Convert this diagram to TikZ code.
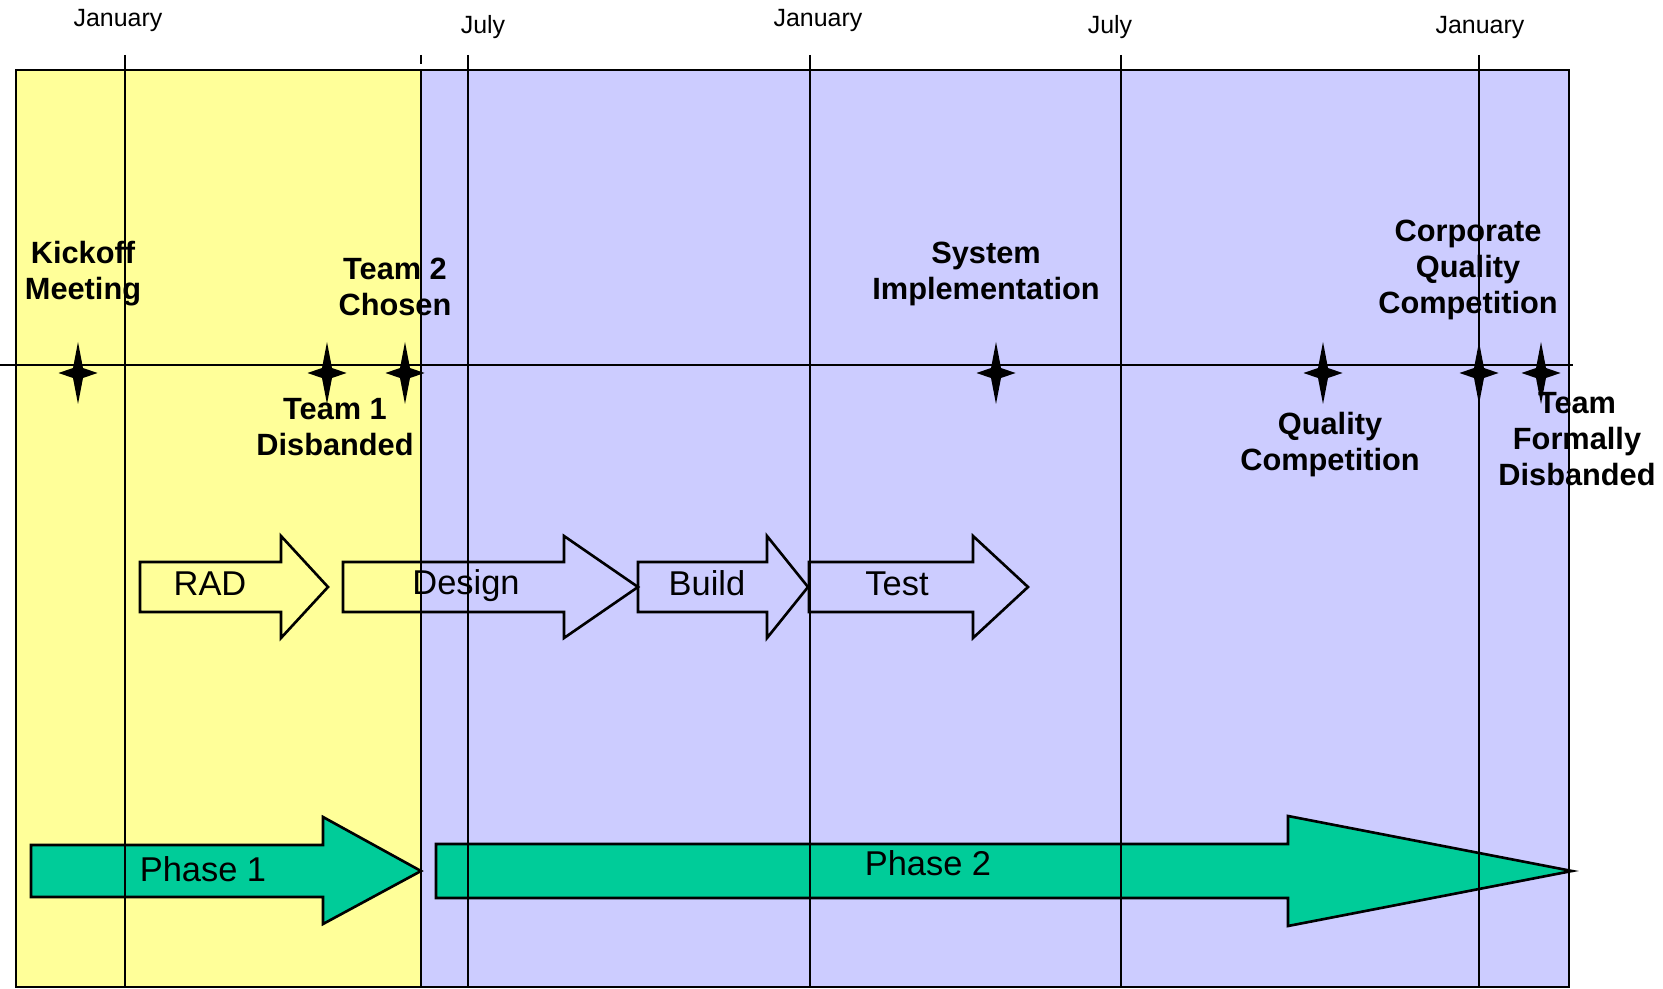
\documentclass[tikz,border=0pt]{standalone}
\usepackage{fontspec}
\setmainfont{Liberation Sans}
\definecolor{radyellow}{HTML}{FFFF99}
\definecolor{phaselilac}{HTML}{CCCCFF}
\definecolor{phasegreen}{HTML}{00CC99}
\tikzset{
  milestone/.pic={\fill (0,-31) -- (5,-5) -- (19.5,0) -- (5,5) -- (0,31) -- (-5,5) -- (-19.5,0) -- (-5,-5) -- cycle;},
  ev/.style={font=\bfseries\fontsize{17.5}{20.5}\selectfont,align=center,inner sep=0pt},
  mon/.style={font=\fontsize{14.2}{17}\selectfont,inner sep=0pt,anchor=base},
  stage/.style={font=\fontsize{19.6}{23}\selectfont,inner sep=0pt,anchor=base},
  rule/.style={line width=1.6pt},
  blockarrow/.style={line width=1.5pt,line join=miter},
}

\begin{document}
\begin{tikzpicture}[x=0.02cm,y=-0.02cm]
   \useasboundingbox (0,0) rectangle (1663,989);
   % periods
   \fill[radyellow] (16,70) rectangle (421,987);
   \fill[phaselilac] (421,70) rectangle (1569,987);
   % phases
   \draw[blockarrow,fill=phasegreen] (31,845) -- (323,845) -- (323,817) -- (421,871) -- (323,924) -- (323,897) -- (31,897) -- cycle;
   \draw[blockarrow,fill=phasegreen] (436,844) -- (1288,844) -- (1288,816) -- (1572,871) -- (1288,926) -- (1288,898) -- (436,898) -- cycle;
   % stages
   \draw[blockarrow] (140,562) -- (281,562) -- (281,536) -- (328,587) -- (281,638) -- (281,612) -- (140,612) -- cycle;
   \draw[blockarrow] (343,562) -- (564,562) -- (564,536) -- (638,587) -- (564,638) -- (564,612) -- (343,612) -- cycle;
   \draw[blockarrow] (638,562) -- (767,562) -- (767,536) -- (808,587) -- (767,638) -- (767,612) -- (638,612) -- cycle;
   \draw[blockarrow] (809,562) -- (973,562) -- (973,536) -- (1028,587) -- (973,638) -- (973,612) -- (809,612) -- cycle;
   % months
   \draw[rule] (125,55) -- (125,987);
   \draw[rule] (468,55) -- (468,987);
   \draw[rule] (810,55) -- (810,987);
   \draw[rule] (1121,55) -- (1121,987);
   \draw[rule] (1479,55) -- (1479,987);
   \draw[rule] (421,55) -- (421,64);
   \draw[rule] (421,70) -- (421,987);
   \draw[rule] (16,70) rectangle (1569,987);
   \node[mon] (jan1) at (118,27) {January};
   \node[mon] (jul1) at (483,34) {July};
   \node[mon] (jan2) at (818,27) {January};
   \node[mon] (jul2) at (1110,34) {July};
   \node[mon] (jan3) at (1480,34) {January};
   % timeline
   \coordinate (tlw) at (0,365);
   \coordinate (tle) at (1573,365);
   \draw[rule] (tlw) -- (tle);
   \pic at (78,373) {milestone};
   \pic at (327,373) {milestone};
   \pic at (405,373) {milestone};
   \pic at (996,373) {milestone};
   \pic at (1323,373) {milestone};
   \pic at (1479,373) {milestone};
   \pic at (1541,373) {milestone};
   \node[ev] (kickoff) at (83,274) {Kickoff\\Meeting};
   \node[ev] (teamtwo) at (395,287) {Team 2\\Chosen};
   \node[ev] (teamone) at (335,427) {Team 1\\Disbanded};
   \node[ev] (sysimpl) at (986,274) {System\\Implementation};
   \node[ev] (corpqual) at (1468,270) {Corporate\\Quality\\Competition};
   \node[ev] (qualcomp) at (1330,445) {Quality\\Competition};
   \node[ev] (teamend) at (1577,439) {Team\\Formally\\Disbanded};
   % labels
   \node[stage] (rad) at (210,595) {RAD};
   \node[stage] (design) at (466,594) {Design};
   \node[stage] (build) at (707,595) {Build};
   \node[stage] (test) at (897,595) {Test};
   \node[stage] (phone) at (203,881) {Phase 1};
   \node[stage] (phtwo) at (928,875) {Phase 2};
\end{tikzpicture}
\end{document}
